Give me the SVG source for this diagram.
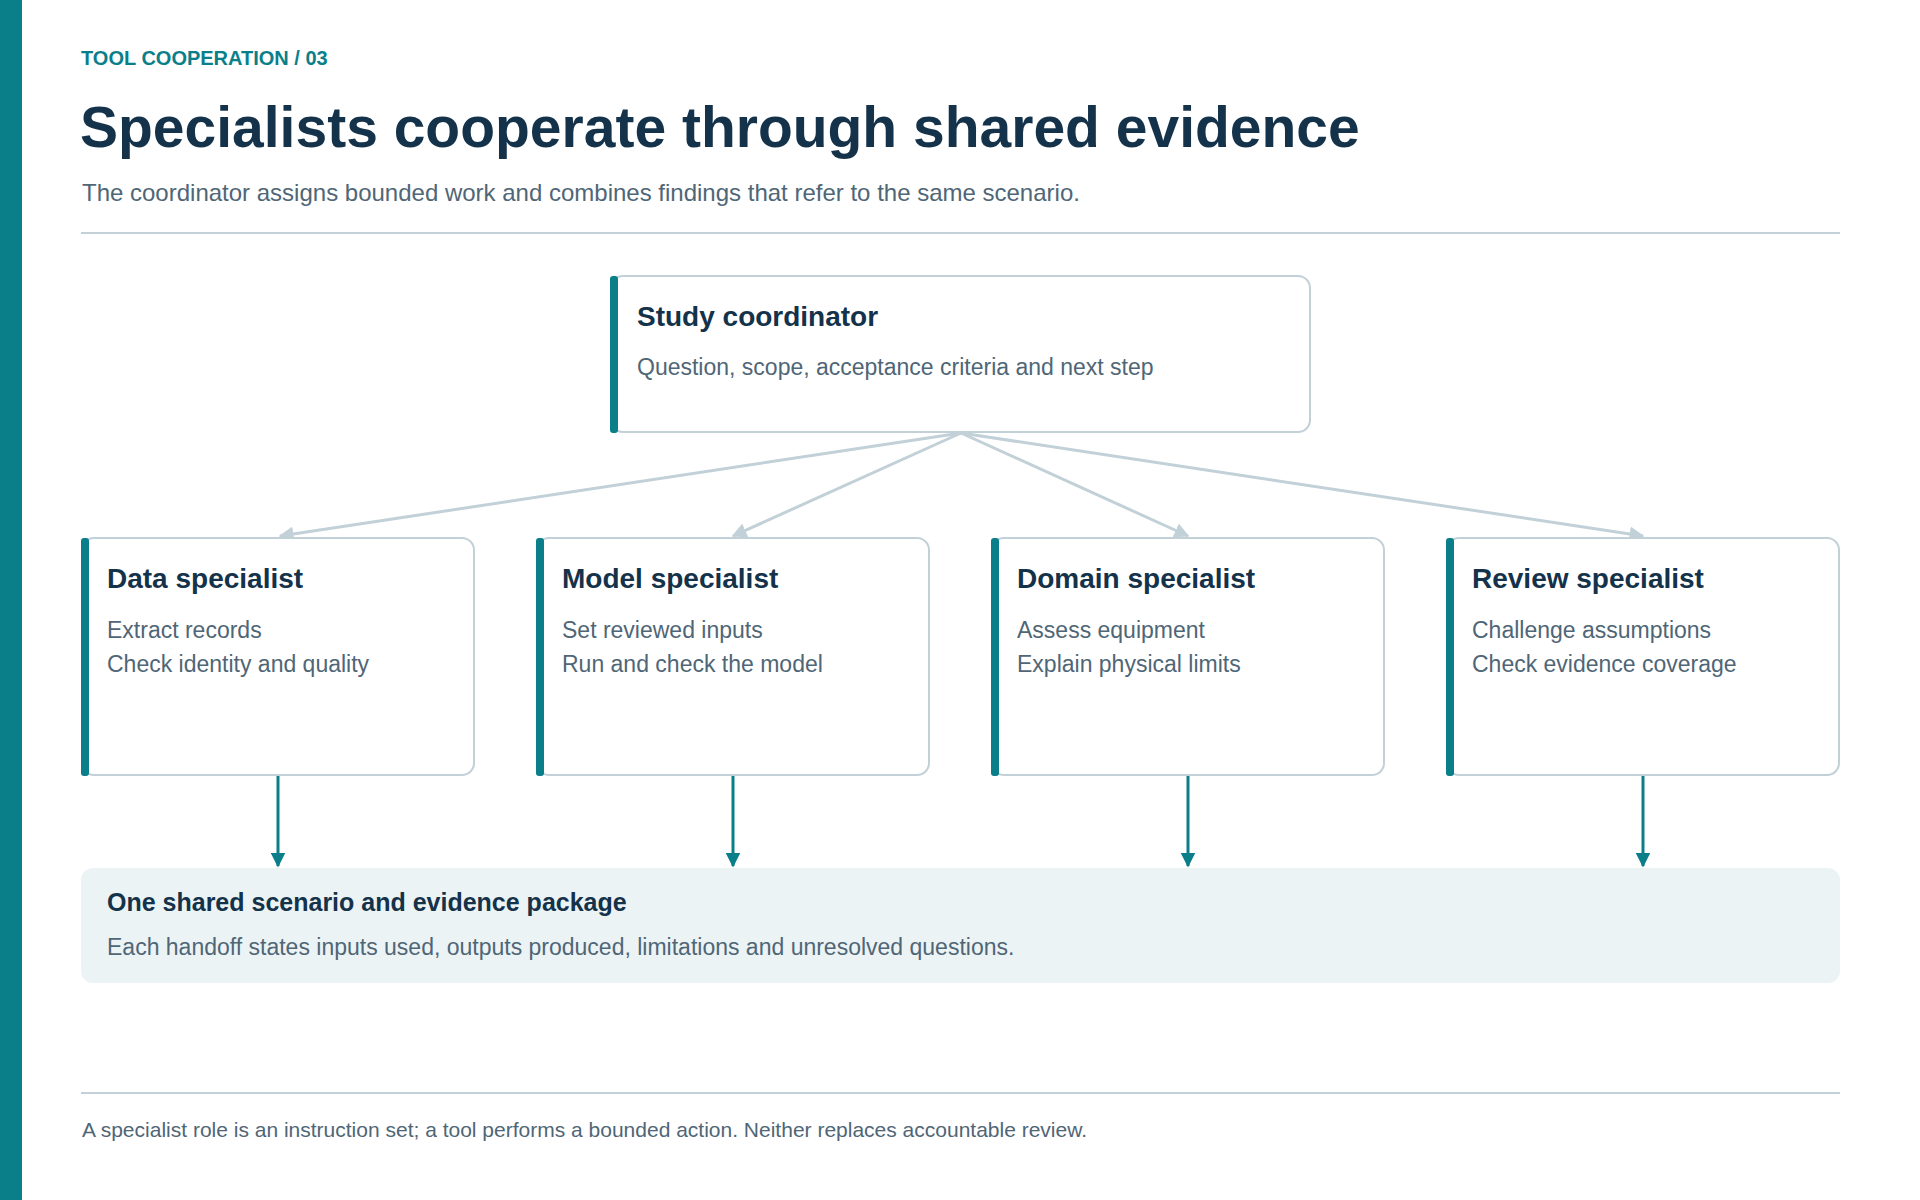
<svg xmlns="http://www.w3.org/2000/svg" width="1920" height="1200" viewBox="0 0 1920 1200">
<defs>
<style>
text{font-family:"Liberation Sans",Arial,sans-serif}
.eb{font-size:20px;font-weight:bold;fill:#0a7f8a}
.h1{font-size:57px;font-weight:bold;fill:#14324a}
.sub{font-size:24px;fill:#4f6676}
.nt{font-size:28px;font-weight:bold;fill:#14324a}
.nd{font-size:23px;fill:#4f6676}
.card{fill:#fff;stroke:#c2d0d8;stroke-width:2}
.acc{fill:#0a7f8a}
.rule{stroke:#c2d0d8;stroke-width:2}
.c1{stroke:#c2d0d8;stroke-width:3;fill:none;marker-end:url(#ag)}
.c2{stroke:#0a7f8a;stroke-width:3;fill:none;marker-end:url(#at)}
</style>
<marker id="ag" viewBox="0 0 10 10" refX="9" refY="5" markerWidth="5" markerHeight="5" orient="auto"><path d="M0,0L10,5L0,10z" fill="#c2d0d8"/></marker>
<marker id="at" viewBox="0 0 10 10" refX="9" refY="5" markerWidth="5" markerHeight="5" orient="auto"><path d="M0,0L10,5L0,10z" fill="#0a7f8a"/></marker>
</defs>
<rect width="1920" height="1200" fill="#fff"/>
<rect x="0" y="0" width="22" height="1200" fill="#0a7f8a"/>
<text class="eb" x="81" y="65">TOOL COOPERATION  /  03</text>
<text class="h1" x="80" y="147">Specialists cooperate through shared evidence</text>
<text class="sub" x="82" y="201">The coordinator assigns bounded work and combines findings that refer to the same scenario.</text>
<line class="rule" x1="81" y1="233" x2="1840" y2="233"/>
<g id="connectors">
<line class="c1" x1="961" y1="433" x2="280" y2="536"/>
<line class="c1" x1="961" y1="433" x2="733" y2="536"/>
<line class="c1" x1="961" y1="433" x2="1188" y2="536"/>
<line class="c1" x1="961" y1="433" x2="1643" y2="536"/>
<line class="c2" x1="278" y1="776" x2="278" y2="866"/>
<line class="c2" x1="733" y1="776" x2="733" y2="866"/>
<line class="c2" x1="1188" y1="776" x2="1188" y2="866"/>
<line class="c2" x1="1643" y1="776" x2="1643" y2="866"/>
</g>
<g id="coordinator">
<rect class="card" x="611" y="276" width="699" height="156" rx="12"/>
<rect class="acc" x="610" y="276" width="8" height="157" rx="3"/>
<text class="nt" x="637" y="326">Study coordinator</text>
<text class="nd" x="637" y="375">Question, scope, acceptance criteria and next step</text>
</g>
<g id="data">
<rect class="card" x="82" y="538" width="392" height="237" rx="12"/>
<rect class="acc" x="81" y="538" width="8" height="238" rx="3"/>
<text class="nt" x="107" y="588">Data specialist</text>
<text class="nd" x="107" y="638">Extract records</text>
<text class="nd" x="107" y="672">Check identity and quality</text>
</g>
<g id="model">
<rect class="card" x="537" y="538" width="392" height="237" rx="12"/>
<rect class="acc" x="536" y="538" width="8" height="238" rx="3"/>
<text class="nt" x="562" y="588">Model specialist</text>
<text class="nd" x="562" y="638">Set reviewed inputs</text>
<text class="nd" x="562" y="672">Run and check the model</text>
</g>
<g id="domain">
<rect class="card" x="992" y="538" width="392" height="237" rx="12"/>
<rect class="acc" x="991" y="538" width="8" height="238" rx="3"/>
<text class="nt" x="1017" y="588">Domain specialist</text>
<text class="nd" x="1017" y="638">Assess equipment</text>
<text class="nd" x="1017" y="672">Explain physical limits</text>
</g>
<g id="review">
<rect class="card" x="1447" y="538" width="392" height="237" rx="12"/>
<rect class="acc" x="1446" y="538" width="8" height="238" rx="3"/>
<text class="nt" x="1472" y="588">Review specialist</text>
<text class="nd" x="1472" y="638">Challenge assumptions</text>
<text class="nd" x="1472" y="672">Check evidence coverage</text>
</g>
<g id="package">
<rect x="81" y="868" width="1759" height="115" rx="12" fill="#ecf3f5"/>
<text x="107" y="911" style="font-size:25px;font-weight:bold;fill:#14324a">One shared scenario and evidence package</text>
<text class="nd" x="107" y="955">Each handoff states inputs used, outputs produced, limitations and unresolved questions.</text>
</g>
<line class="rule" x1="81" y1="1093" x2="1840" y2="1093"/>
<text x="82" y="1137" style="font-size:21px;fill:#4f6676">A specialist role is an instruction set; a tool performs a bounded action. Neither replaces accountable review.</text>
</svg>
